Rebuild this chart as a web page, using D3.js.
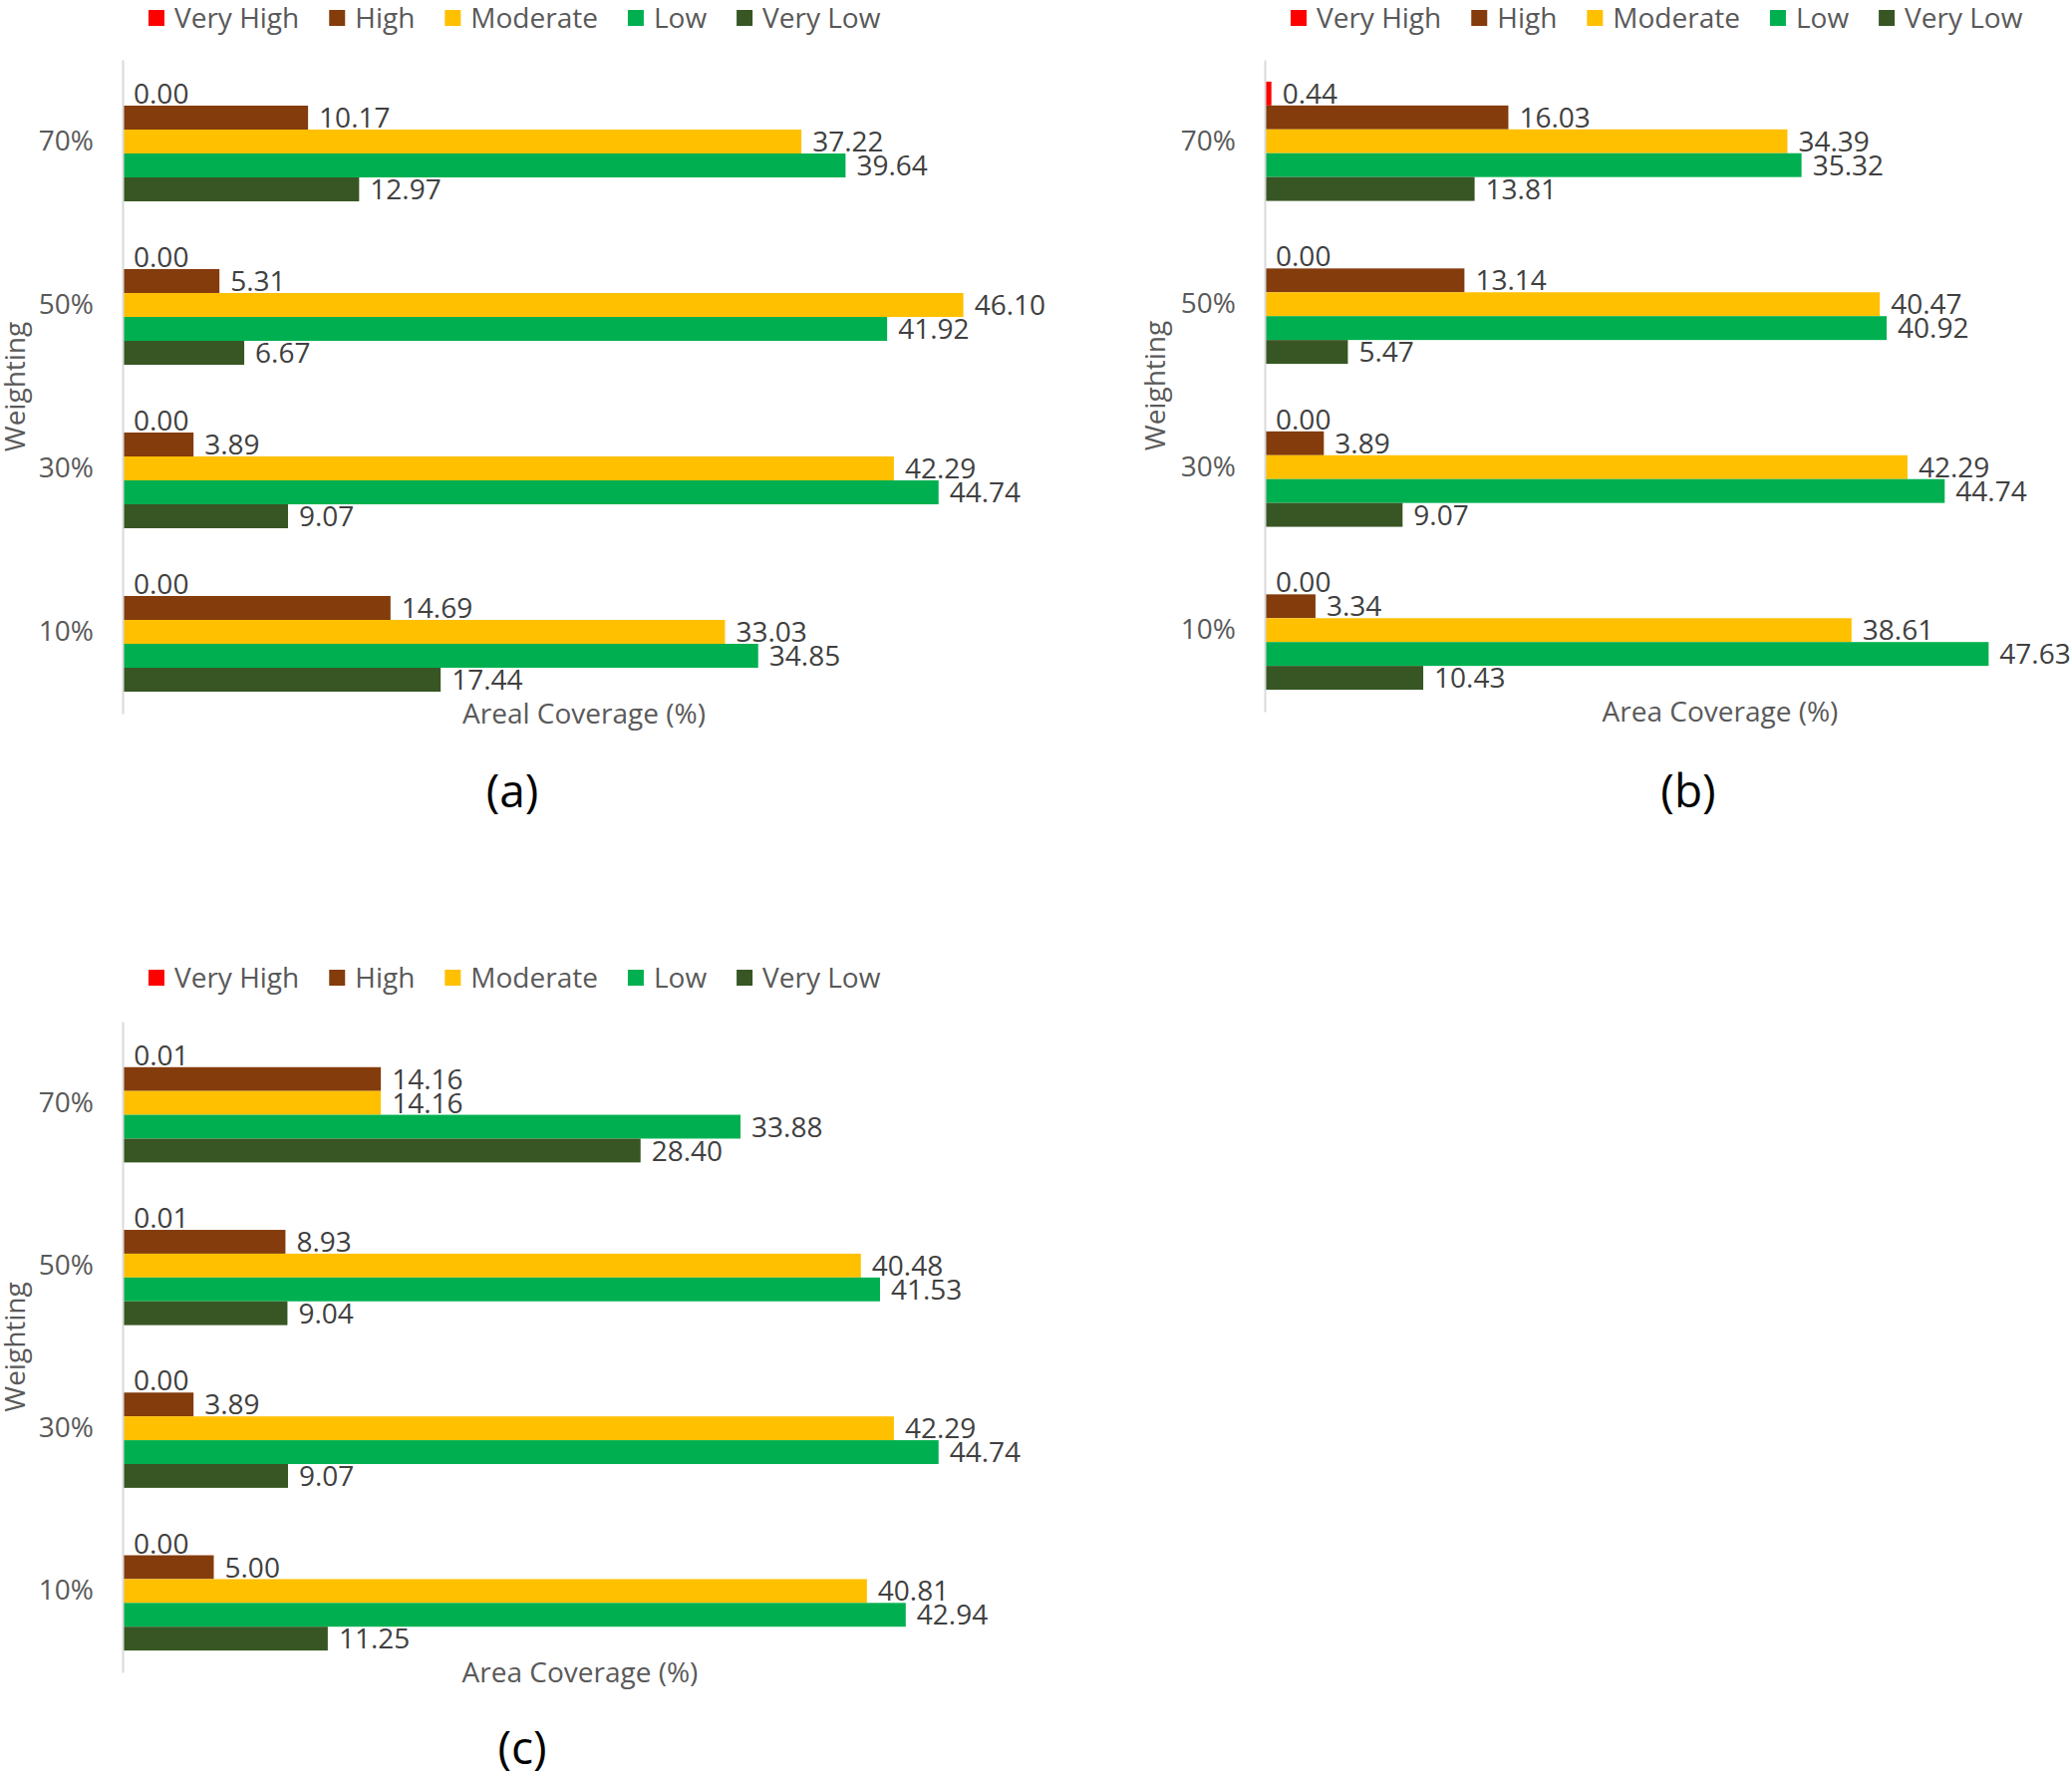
<!DOCTYPE html>
<head>
    <style>
        body { margin: 0; background: #fff; }
        svg { display: block; background: #fff; }
        text { font-family: 'Open Sans', sans-serif; }
        .legend text, .tick text, .title { fill: #595959; font-size: 28px; }
        .label { fill: #404040; font-size: 28px; }
        .caption { fill: #000; font-size: 46px; }
        .domain { stroke: #d9d9d9; stroke-width: 2px; }
    </style>
</head>
<body>
    <script src="https://d3js.org/d3.v7.min.js"></script>
    <script>
        // weighting categories, top to bottom
        var weightings = ['70%', '50%', '30%', '10%'];
        var classes = ['Very High', 'High', 'Moderate', 'Low', 'Very Low'];
        var colors = ['#ff0000', '#843c0c', '#ffc000', '#00b050', '#375623'];

        // rows follow weightings, columns follow classes
        var valuesA = [[0.00, 10.17, 37.22, 39.64, 12.97],
                       [0.00, 5.31, 46.10, 41.92, 6.67],
                       [0.00, 3.89, 42.29, 44.74, 9.07],
                       [0.00, 14.69, 33.03, 34.85, 17.44]];
        var valuesB = [[0.44, 16.03, 34.39, 35.32, 13.81],
                       [0.00, 13.14, 40.47, 40.92, 5.47],
                       [0.00, 3.89, 42.29, 44.74, 9.07],
                       [0.00, 3.34, 38.61, 47.63, 10.43]];
        var valuesC = [[0.01, 14.16, 14.16, 33.88, 28.40],
                       [0.01, 8.93, 40.48, 41.53, 9.04],
                       [0.00, 3.89, 42.29, 44.74, 9.07],
                       [0.00, 5.00, 40.81, 42.94, 11.25]];

        var svg = d3.select('body')
                    .append('svg')
                    .attr('width', 2079)
                    .attr('height', 1779);

        var panels = [
            {values: valuesA, left: 123, top: 60, bottom: 716, xmax: 50,
             legendX: 149, legendY: 18, titleX: 586, title: 'Areal Coverage (%)',
             ytitleX: 15, caption: '(a)', capX: 514, capY: 793},
            {values: valuesB, left: 1269, top: 60, bottom: 714, xmax: 60,
             legendX: 1295, legendY: 18, titleX: 1726, title: 'Area Coverage (%)',
             ytitleX: 1159, caption: '(b)', capX: 1694, capY: 793},
            {values: valuesC, left: 123, top: 1025, bottom: 1678, xmax: 50,
             legendX: 149, legendY: 981, titleX: 582, title: 'Area Coverage (%)',
             ytitleX: 15, caption: '(c)', capX: 524, capY: 1753}
        ];

        function drawPanel(p) {
            var x = d3.scaleLinear()
                      .domain([0, p.xmax])
                      .range([p.left, p.left + 915]);
            var y = d3.scaleBand()
                      .domain(weightings)
                      .range([p.top, p.bottom])
                      .paddingInner(0.268)
                      .paddingOuter(0.134);
            var ySub = d3.scaleBand()
                         .domain(d3.range(classes.length))
                         .range([0, y.bandwidth()]);

            var g = svg.append('g');

            // bars
            var groups = g.selectAll('g.group')
                          .data(p.values)
                          .enter()
                          .append('g')
                          .attr('class', 'group')
                          .attr('transform', (d, i) => 'translate(0,' + y(weightings[i]) + ')');

            groups.selectAll('rect')
                  .data(d => d)
                  .enter()
                  .append('rect')
                  .attr('x', x(0))
                  .attr('y', (d, i) => ySub(i))
                  .attr('width', d => x(d) - x(0))
                  .attr('height', ySub.bandwidth())
                  .attr('fill', (d, i) => colors[i]);

            groups.selectAll('text')
                  .data(d => d)
                  .enter()
                  .append('text')
                  .attr('class', 'label')
                  .attr('x', d => x(d) + 11)
                  .attr('y', (d, i) => ySub(i) + ySub.bandwidth() / 2)
                  .attr('dy', '0.36em')
                  .text(d => d3.format('.2f')(d));

            // category axis
            var axis = g.append('g')
                        .attr('transform', 'translate(' + x(0) + ',0)')
                        .call(d3.axisLeft(y).tickSize(0).tickSizeOuter(0).tickPadding(29));
            axis.selectAll('.tick text').style('font-size', '28px');

            // axis titles
            g.append('text')
             .attr('class', 'title')
             .attr('text-anchor', 'middle')
             .attr('transform', 'translate(' + p.ytitleX + ',' + (p.top + p.bottom) / 2 + ') rotate(-90)')
             .attr('dy', '0.36em')
             .text('Weighting');
            g.append('text')
             .attr('class', 'title')
             .attr('text-anchor', 'middle')
             .attr('x', p.titleX)
             .attr('y', p.bottom)
             .attr('dy', '0.36em')
             .text(p.title);
            g.append('text')
             .attr('class', 'caption')
             .attr('text-anchor', 'middle')
             .attr('x', p.capX)
             .attr('y', p.capY)
             .attr('dy', '0.36em')
             .text(p.caption);

            // legend
            var lg = g.append('g').attr('class', 'legend');
            var lx = p.legendX;
            classes.forEach(function(c, i) {
                lg.append('rect')
                  .attr('x', lx)
                  .attr('y', p.legendY - 8)
                  .attr('width', 16)
                  .attr('height', 16)
                  .attr('fill', colors[i]);
                var t = lg.append('text')
                          .attr('x', lx + 26)
                          .attr('y', p.legendY)
                          .attr('dy', '0.36em')
                          .text(c);
                lx += 26 + t.node().getComputedTextLength() + 30;
            });
        }

        panels.forEach(drawPanel);
    </script>
</body>
